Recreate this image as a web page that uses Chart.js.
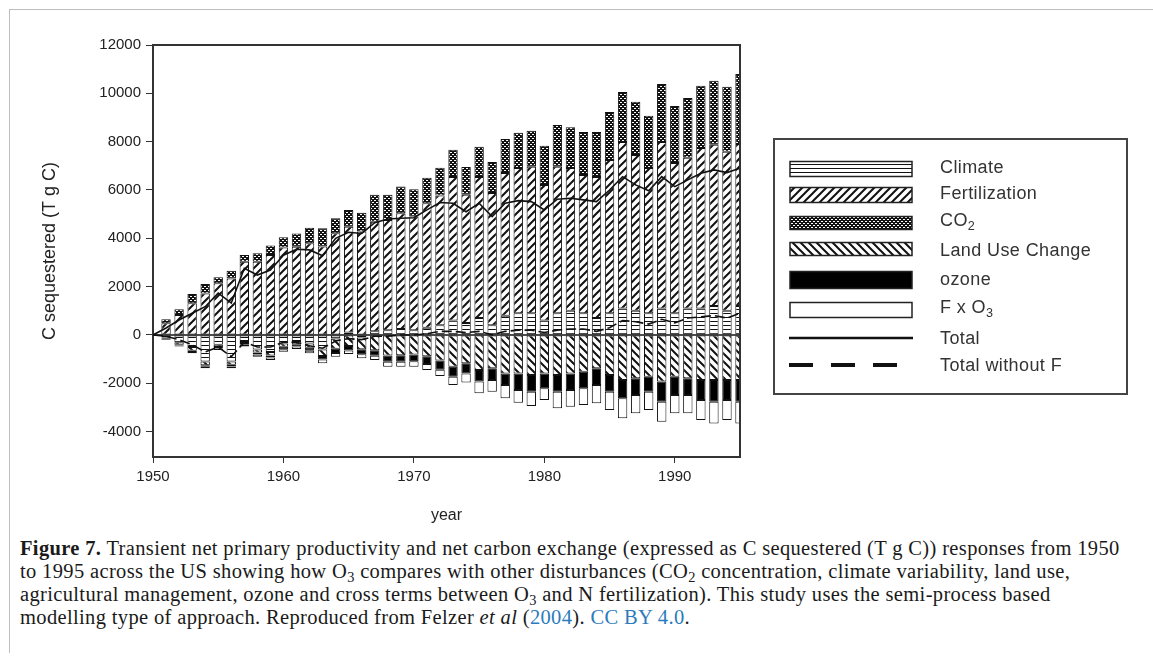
<!DOCTYPE html>
<html>
<head>
<meta charset="utf-8">
<script src="https://cdn.jsdelivr.net/npm/chart.js@4.4.1/dist/chart.umd.min.js"></script>
<style>
  body { margin: 0; background: #fff; width: 1153px; height: 662px; overflow: hidden; position: relative; }
  #frame { position: absolute; left: 9px; top: 9px; width: 1150px; height: 643px; border-left: 1px solid #bdbdbd; border-top: 1px solid #bdbdbd; }
  #chart { position: absolute; left: 10px; top: 0; }
  #legend { position: absolute; left: 773px; top: 138px; width: 351px; height: 253px; border: 2px solid #444; font-family: "Liberation Sans", Arial, sans-serif; font-size: 18px; color: #333; letter-spacing: 0.4px; }
  #legend canvas, #legend span { position: absolute; }
  #legend span { left: 165px; line-height: 20px; white-space: nowrap; }
  sub { font-size: 0.7em; line-height: 0; vertical-align: -0.3em; }
  #caption { position: absolute; left: 20px; top: 537px; font-family: "Liberation Serif", "Times New Roman", serif; font-size: 20.5px; letter-spacing: 0.35px; line-height: 23px; color: #1a1a1a; white-space: nowrap; }
  #caption .lnk { color: #2b7bbd; }
</style>
</head>
<body>
<div id="frame"></div>
<canvas id="chart" width="1143" height="530"></canvas>
<div id="legend"></div>
<div id="caption"><b>Figure 7.</b> Transient net primary productivity and net carbon exchange (expressed as C sequestered (T g C)) responses from 1950<br>to 1995 across the US showing how O<sub>3</sub> compares with other disturbances (CO<sub>2</sub> concentration, climate variability, land use,<br>agricultural management, ozone and cross terms between O<sub>3</sub> and N fertilization). This study uses the semi-process based<br>modelling type of approach. Reproduced from Felzer <i>et al</i> (<span class="lnk">2004</span>). <span class="lnk">CC BY 4.0</span>.</div>
<script>
// values (T g C)
const years = [1951, 1952, 1953, 1954, 1955, 1956, 1957, 1958, 1959, 1960,
               1961, 1962, 1963, 1964, 1965, 1966, 1967, 1968, 1969, 1970,
               1971, 1972, 1973, 1974, 1975, 1976, 1977, 1978, 1979, 1980,
               1981, 1982, 1983, 1984, 1985, 1986, 1987, 1988, 1989, 1990,
               1991, 1992, 1993, 1994, 1995];
const lineYears = [1950].concat(years);

const climate = [-100, -300, -500, -1100, -400, -1100, -250, -600, -700, -350,
                 -250, -350, -600, -150, 100, -100, 150, 200, 250, 200,
                 300, 400, 600, 500, 700, 400, 800, 900, 900, 600,
                 900, 1000, 900, 700, 900, 1100, 1000, 900, 1100, 900,
                 1100, 1100, 1200, 1000, 1200];
const fertilization = [480, 830, 1310, 1720, 2140, 2340, 3030, 3035, 3310, 3620,
                       3650, 3800, 3660, 4210, 4375, 4280, 4540, 4560, 4790, 4700,
                       5150, 5370, 5940, 5300, 5840, 5480, 5900, 6010, 6060, 5610,
                       6060, 5910, 5720, 5840, 6345, 6890, 6450, 6010, 6890, 6220,
                       6230, 6640, 6670, 6580, 6700];
const co2 = [170, 230, 390, 390, 250, 320, 280, 345, 390, 420,
             550, 640, 760, 620, 700, 780, 1110, 1040, 1100, 1130,
             1060, 1150, 1120, 1155, 1250, 1280, 1410, 1460, 1490, 1620,
             1730, 1690, 1780, 1860, 1985, 2070, 2200, 2160, 2400, 2360,
             2480, 2570, 2650, 2690, 2900];
const landUse = [-40, -100, -150, -150, -100, -130, -80, -130, -145, -140,
                 -130, -180, -270, -420, -460, -495, -635, -850, -840, -810,
                 -880, -1060, -1310, -1170, -1450, -1380, -1590, -1590, -1660, -1590,
                 -1660, -1590, -1520, -1380, -1655, -1860, -1795, -1725, -1930, -1725,
                 -1795, -1860, -1860, -1860, -1860];
const ozone = [-30, -40, -50, -60, -60, -70, -70, -80, -90, -100,
               -100, -120, -150, -180, -180, -200, -220, -260, -270, -280,
               -320, -380, -415, -420, -480, -480, -480, -690, -685, -620,
               -685, -690, -690, -690, -690, -760, -685, -620, -830, -755,
               -685, -830, -900, -830, -900];
const fxO3 = [-30, -40, -60, -70, -60, -80, -80, -90, -100, -100,
              -100, -110, -150, -150, -150, -170, -180, -200, -200, -220,
              -250, -260, -345, -380, -485, -485, -550, -520, -595, -480,
              -690, -690, -690, -760, -760, -830, -760, -760, -830, -760,
              -760, -830, -900, -830, -900];
const total = [0, 290, 620, 900, 1170, 1730, 1320, 2760, 2480, 2690, 3300,
               3550, 3520, 3280, 4000, 4250, 4200, 4650, 4800, 4830, 4850,
               5175, 5480, 5450, 5100, 5450, 4900, 5450, 5560, 5520, 5175,
               5620, 5660, 5590, 5520, 6000, 6550, 6210, 5970, 6550, 6140,
               6420, 6690, 6830, 6720, 6900];
const totalNoF = [0, -50, -200, -400, -700, -500, -900, -300, -500, -500, -300,
                  -300, -450, -550, -250, -150, -200, -50, -50, 0, 0,
                  50, 150, 150, 100, 150, 0, 150, 200, 200, 100,
                  200, 250, 250, 150, 300, 600, 550, 450, 650, 500,
                  700, 750, 800, 700, 900];
const yTicks = [-4000, -2000, 0, 2000, 4000, 6000, 8000, 10000, 12000];

// fill patterns like the print figure
function pattern(kind) {
  const c = document.createElement('canvas');
  const g = c.getContext('2d');
  if (kind === 'climate') {
    c.width = 4; c.height = 4;
    g.fillStyle = '#fff'; g.fillRect(0, 0, 4, 4);
    g.fillStyle = '#111'; g.fillRect(0, 1, 4, 1);
  } else if (kind === 'fert' || kind === 'luc') {
    c.width = 8; c.height = 8;
    g.fillStyle = '#fff'; g.fillRect(0, 0, 8, 8);
    g.strokeStyle = '#111'; g.lineWidth = 2;
    g.beginPath();
    if (kind === 'fert') {
      g.moveTo(0, 8); g.lineTo(8, 0);
      g.moveTo(-2, 2); g.lineTo(2, -2);
      g.moveTo(6, 10); g.lineTo(10, 6);
    } else {
      g.moveTo(0, 0); g.lineTo(8, 8);
      g.moveTo(-2, 6); g.lineTo(2, 10);
      g.moveTo(6, -2); g.lineTo(10, 2);
    }
    g.stroke();
  } else if (kind === 'co2') {
    c.width = 4; c.height = 4;
    g.fillStyle = '#111'; g.fillRect(0, 0, 4, 4);
    g.fillStyle = '#fff';
    g.fillRect(0, 0, 2, 1); g.fillRect(2, 2, 2, 1);
  } else if (kind === 'ozone') {
    c.width = 2; c.height = 2;
    g.fillStyle = '#000'; g.fillRect(0, 0, 2, 2);
  } else {
    c.width = 2; c.height = 2;
    g.fillStyle = '#fff'; g.fillRect(0, 0, 2, 2);
  }
  return g.createPattern(c, 'repeat');
}

function barSet(label, values, kind) {
  return {
    type: 'bar',
    label: label,
    data: years.map((y, i) => ({ x: y, y: values[i] })),
    backgroundColor: pattern(kind),
    borderColor: '#111',
    borderWidth: 1,
    borderSkipped: false,
    barPercentage: 0.72,
    categoryPercentage: 1,
    stack: 'bars',
    clip: 0
  };
}

function lineSet(label, values, dash) {
  return {
    type: 'line',
    label: label,
    data: lineYears.map((y, i) => ({ x: y, y: values[i] })),
    borderColor: '#111',
    borderWidth: 1.6,
    borderDash: dash,
    pointRadius: 0,
    tension: 0,
    fill: false,
    stack: label,
    order: -1,
    clip: 0
  };
}

// top and right sides of the plot box, plus the zero line over the bars
const frameLines = {
  id: 'frameLines',
  afterDatasetsDraw(c) {
    const a = c.chartArea, ctx = c.ctx;
    const y0 = c.scales.y.getPixelForValue(0);
    ctx.save();
    ctx.strokeStyle = '#111';
    ctx.lineWidth = 1.5;
    ctx.beginPath();
    ctx.moveTo(a.left, y0);
    ctx.lineTo(a.right, y0);
    ctx.stroke();
    ctx.strokeStyle = '#333';
    ctx.lineWidth = 2;
    ctx.beginPath();
    ctx.moveTo(a.left, a.top);
    ctx.lineTo(a.right, a.top);
    ctx.lineTo(a.right, a.bottom);
    ctx.stroke();
    ctx.restore();
  }
};

Chart.defaults.font.family = '"Liberation Sans", Arial, sans-serif';
Chart.defaults.color = '#222';

new Chart(document.getElementById('chart'), {
  type: 'bar',
  data: {
    datasets: [
      barSet('Climate', climate, 'climate'),
      barSet('Fertilization', fertilization, 'fert'),
      barSet('CO2', co2, 'co2'),
      barSet('Land Use Change', landUse, 'luc'),
      barSet('ozone', ozone, 'ozone'),
      barSet('F x O3', fxO3, 'fxo3'),
      lineSet('Total', total, []),
      lineSet('Total without F', totalNoF, [10, 4])
    ]
  },
  options: {
    responsive: false,
    animation: false,
    layout: { padding: { left: 0, top: 45, right: 413, bottom: 0 } },
    plugins: { legend: { display: false }, tooltip: { enabled: false } },
    scales: {
      x: {
        type: 'linear',
        min: 1950,
        max: 1995,
        offset: false,
        stacked: true,
        ticks: { stepSize: 10, includeBounds: false, maxRotation: 0, padding: 5,
                 font: { size: 15 }, callback: v => String(v) },
        grid: { drawOnChartArea: false, offset: false, tickLength: 6, tickColor: '#333' },
        border: { color: '#333', width: 2 },
        title: { display: true, text: 'year', font: { size: 16 }, padding: { top: 0, bottom: 5 } },
        afterFit: s => { s.height = 73; }
      },
      y: {
        stacked: true,
        min: -5050,
        max: 12000,
        afterBuildTicks: s => { s.ticks = yTicks.map(v => ({ value: v })); },
        ticks: { padding: 5, font: { size: 15 }, callback: v => String(v) },
        grid: { drawOnChartArea: false, tickLength: 7, tickColor: '#333' },
        border: { color: '#333', width: 2 },
        title: { display: true, text: 'C sequestered (T g C)', font: { size: 18 }, padding: { top: 29, bottom: 0 } },
        afterFit: s => { s.width = 143; }
      }
    }
  },
  plugins: [frameLines]
});

// legend box, drawn with the same fills
const legendItems = [
  { html: 'Climate', kind: 'climate', y: 29, h: 15, ty: 27 },
  { html: 'Fertilization', kind: 'fert', y: 55, h: 15, ty: 53 },
  { html: 'CO<sub>2</sub>', kind: 'co2', y: 83, h: 13, ty: 80 },
  { html: 'Land Use Change', kind: 'luc', y: 109, h: 13, ty: 110 },
  { html: 'ozone', kind: 'ozone', y: 140, h: 17, ty: 139 },
  { html: 'F x O<sub>3</sub>', kind: 'fxo3', y: 170, h: 15, ty: 167 },
  { html: 'Total', line: [], y: 198, ty: 198 },
  { html: 'Total without F', line: [24, 18], y: 225, ty: 225 }
];
const legend = document.getElementById('legend');
legendItems.forEach(it => {
  const c = document.createElement('canvas');
  c.width = 124; c.height = 20;
  c.style.left = '14px';
  c.style.top = (it.y - 10) + 'px';
  const g = c.getContext('2d');
  if (it.kind) {
    const top = 10 - it.h / 2;
    g.fillStyle = pattern(it.kind);
    g.fillRect(1, top, 122, it.h);
    g.strokeStyle = '#222';
    g.lineWidth = 1.5;
    g.strokeRect(1, top, 122, it.h);
  } else {
    g.strokeStyle = '#111';
    g.lineWidth = it.line.length ? 4 : 2.5;
    g.setLineDash(it.line);
    g.beginPath();
    g.moveTo(0, 10); g.lineTo(124, 10);
    g.stroke();
  }
  legend.appendChild(c);
  const s = document.createElement('span');
  s.innerHTML = it.html;
  s.style.top = (it.ty - 10) + 'px';
  legend.appendChild(s);
});
</script>
</body>
</html>
